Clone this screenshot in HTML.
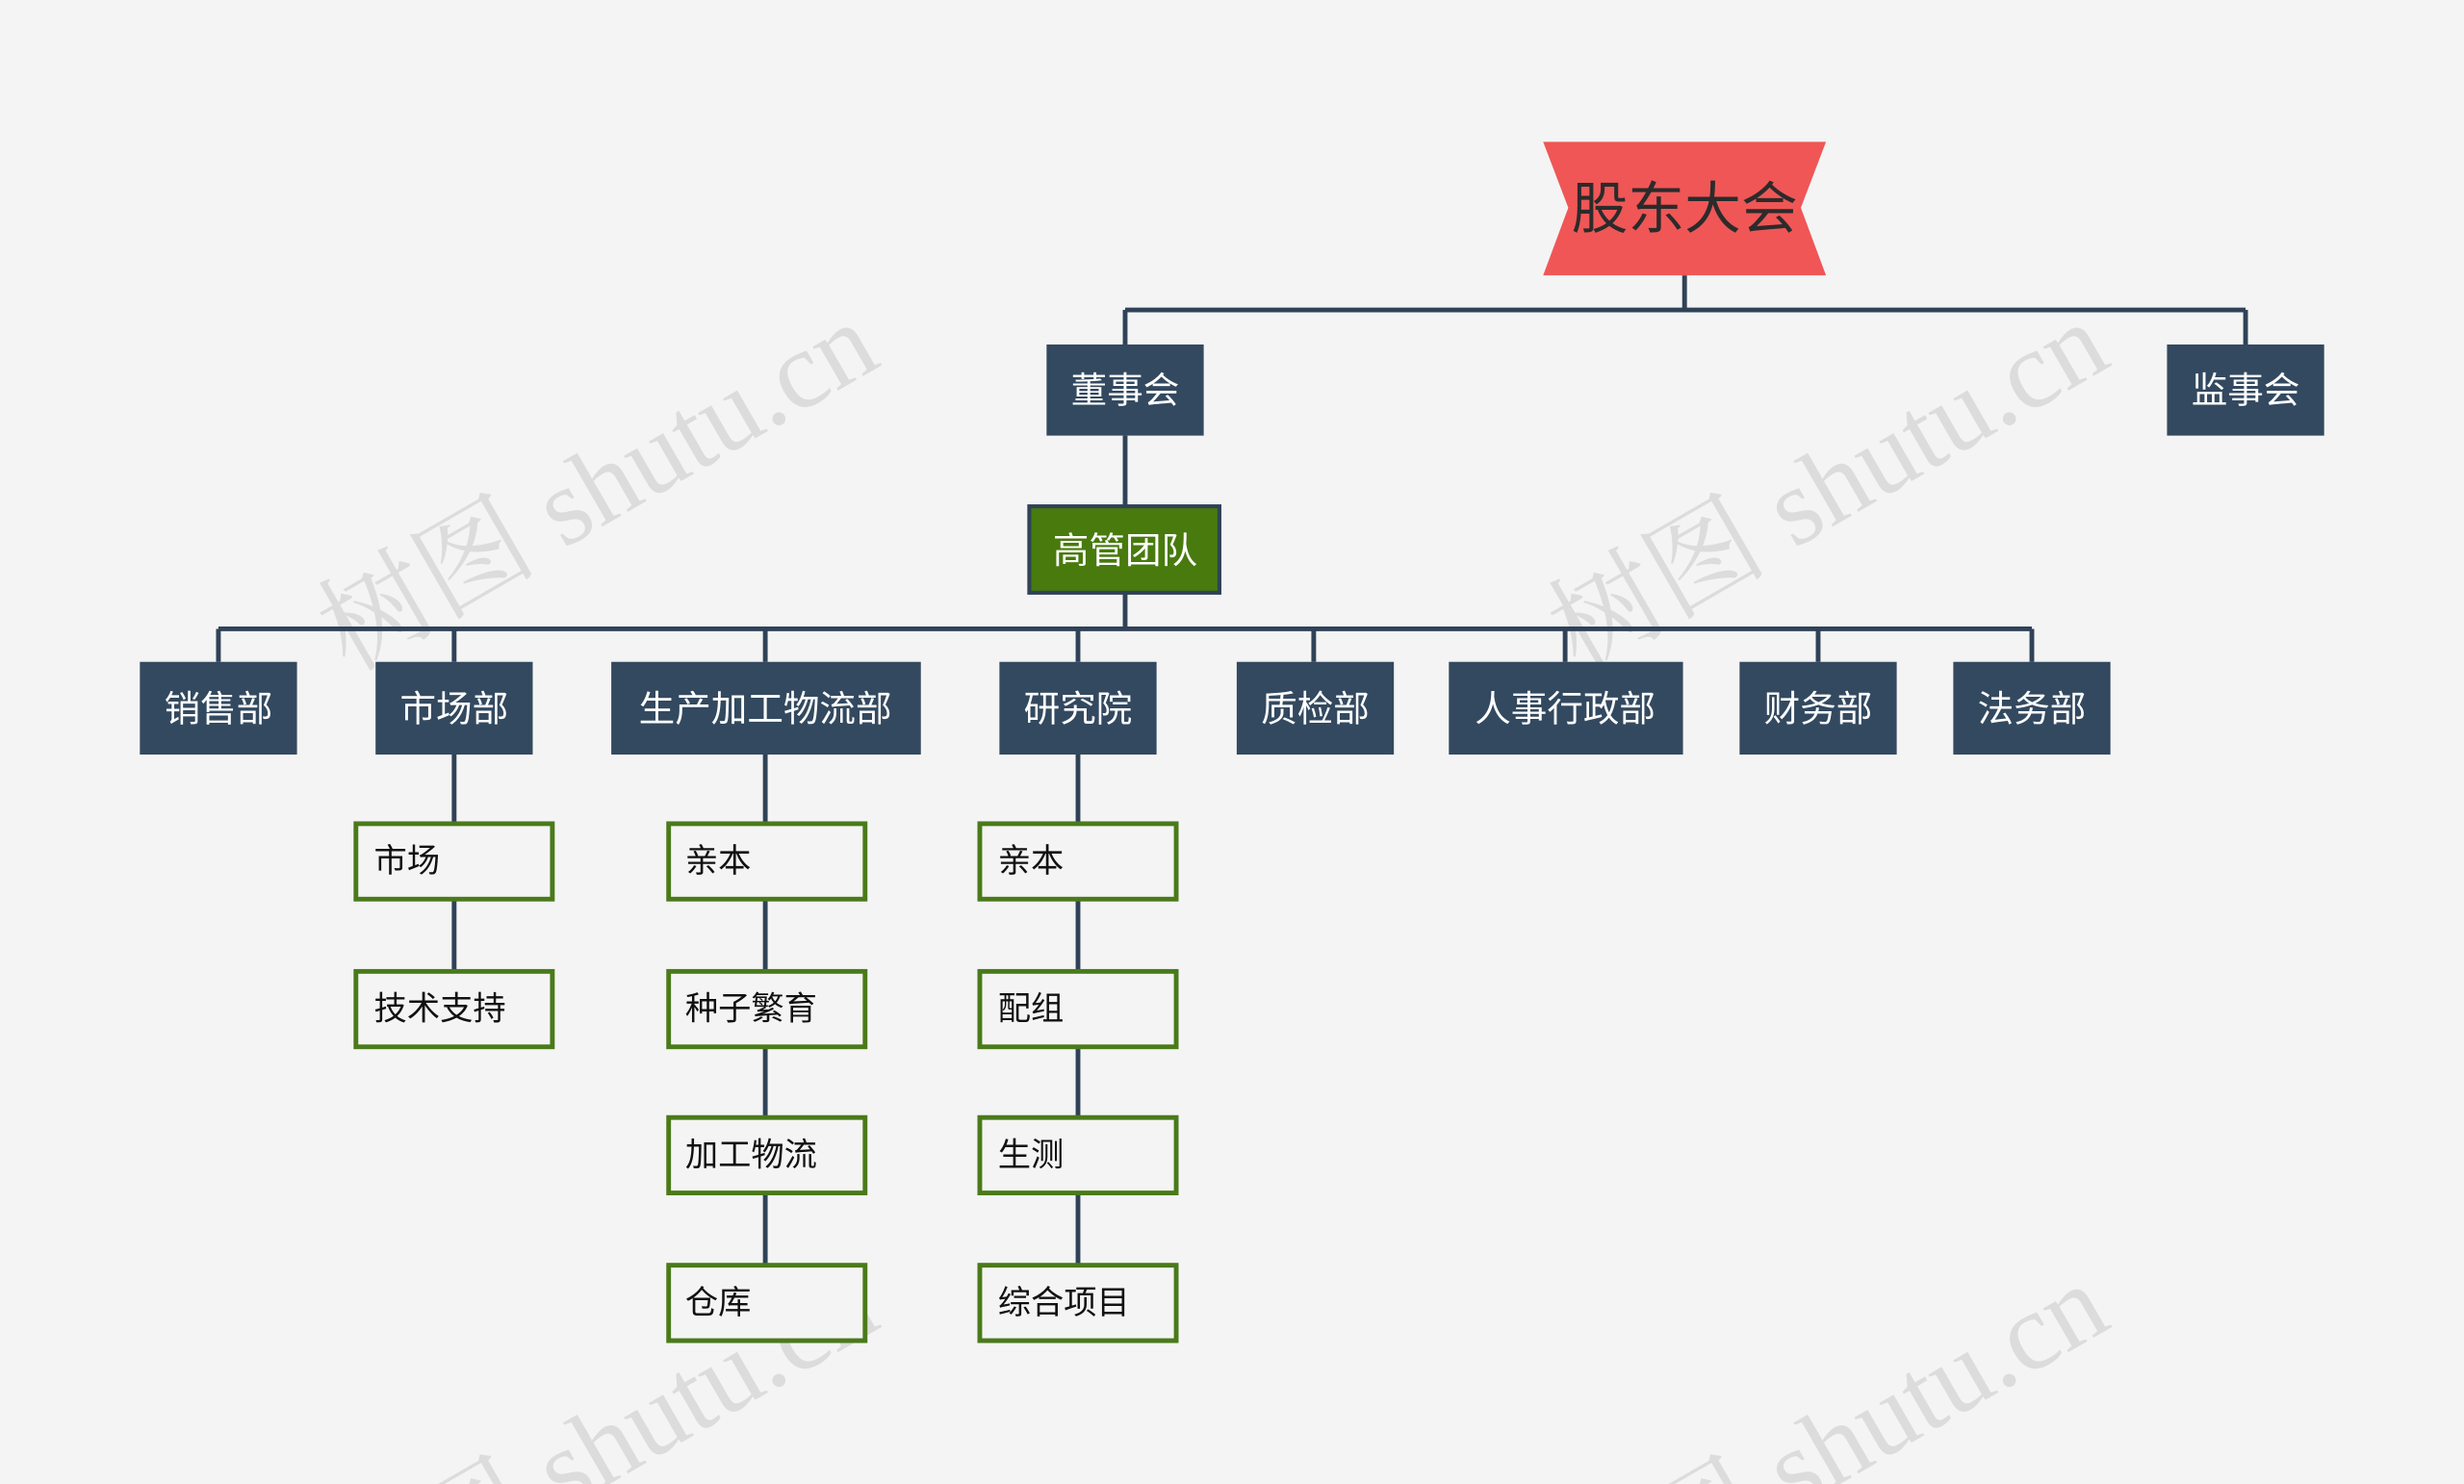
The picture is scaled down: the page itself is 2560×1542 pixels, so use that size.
<!DOCTYPE html>
<html><head><meta charset="utf-8">
<style>
html,body{margin:0;padding:0;background:#f4f4f4;width:2560px;height:1542px;overflow:hidden;}
svg{display:block;overflow:hidden;}
text{font-family:"Liberation Sans","Noto Sans CJK SC",sans-serif;}
.wm text{font-family:"Liberation Serif","Noto Serif CJK SC",serif;font-size:70px;fill:#dcdcdc;}
.d{fill:#33495f;}
.dt{fill:#fff;font-size:23px;text-anchor:middle;dominant-baseline:central;}
.c{fill:#f4f4f4;stroke:#4a7a1a;stroke-width:3;}
.ct{fill:#111;font-size:21px;dominant-baseline:central;}
.l{stroke:#2f4257;stroke-width:3;fill:none;}
</style></head>
<body>
<svg width="2560" height="1542" viewBox="0 0 1568 944" xmlns="http://www.w3.org/2000/svg">
<rect width="1568" height="944" fill="#f4f4f4"/>
<g class="wm">
<text transform="translate(222,428) rotate(-30)">树图 shutu.cn</text>
<text transform="translate(1005,428) rotate(-30)">树图 shutu.cn</text>
<text transform="translate(222,1040) rotate(-30)">树图 shutu.cn</text>
<text transform="translate(1005,1040) rotate(-30)">树图 shutu.cn</text>
</g>
<path class="l" d="M1072 175V197M716 197H1429M716 197V219M1429 197V219M716 277V321M716 378V400M139 400H1293"/>
<path class="l" d="M139 400V421M289 400V421M487 400V421M686 400V421M836 400V421M996 400V421M1157 400V421M1293 400V421"/>
<path class="l" d="M289 480V617M487 480V804M686 480V804"/>
<polygon points="982,90 1162,90 1146,132 1162,175 982,175 998,132" fill="#f05656"/>
<text x="1072" y="133" font-size="36" text-anchor="middle" dominant-baseline="central" fill="#2b2b2b">股东大会</text>
<rect class="d" x="666" y="219" width="100" height="58"/><text class="dt" x="716" y="248">董事会</text>
<rect class="d" x="1379" y="219" width="100" height="58"/><text class="dt" x="1429" y="248">监事会</text>
<rect x="655" y="322" width="121" height="55" fill="#487a0d" stroke="#2f4257" stroke-width="2.5"/><text class="dt" x="716" y="350">高管团队</text>
<rect class="d" x="89" y="421" width="100" height="59"/><text class="dt" x="139" y="451">销售部</text>
<rect class="d" x="239" y="421" width="100" height="59"/><text class="dt" x="289" y="451">市场部</text>
<rect class="d" x="389" y="421" width="197" height="59"/><text class="dt" x="487" y="451">生产加工物流部</text>
<rect class="d" x="636" y="421" width="100" height="59"/><text class="dt" x="686" y="451">研究院</text>
<rect class="d" x="787" y="421" width="100" height="59"/><text class="dt" x="837" y="451">质检部</text>
<rect class="d" x="922" y="421" width="149" height="59"/><text class="dt" x="996" y="451">人事行政部</text>
<rect class="d" x="1107" y="421" width="100" height="59"/><text class="dt" x="1157" y="451">财务部</text>
<rect class="d" x="1243" y="421" width="100" height="59"/><text class="dt" x="1293" y="451">法务部</text>
<rect class="c" x="226.5" y="524" width="125" height="48"/><text class="ct" x="238" y="548">市场</text>
<rect class="c" x="226.5" y="618" width="125" height="48"/><text class="ct" x="238" y="642">技术支持</text>
<rect class="c" x="425.5" y="524" width="125" height="48"/><text class="ct" x="436" y="548">亲本</text>
<rect class="c" x="425.5" y="618" width="125" height="48"/><text class="ct" x="436" y="642">种子繁育</text>
<rect class="c" x="425.5" y="711" width="125" height="48"/><text class="ct" x="436" y="735">加工物流</text>
<rect class="c" x="425.5" y="805" width="125" height="48"/><text class="ct" x="436" y="829">仓库</text>
<rect class="c" x="623.5" y="524" width="125" height="48"/><text class="ct" x="635" y="548">亲本</text>
<rect class="c" x="623.5" y="618" width="125" height="48"/><text class="ct" x="635" y="642">配组</text>
<rect class="c" x="623.5" y="711" width="125" height="48"/><text class="ct" x="635" y="735">生测</text>
<rect class="c" x="623.5" y="805" width="125" height="48"/><text class="ct" x="635" y="829">综合项目</text>
</svg>
</body></html>
